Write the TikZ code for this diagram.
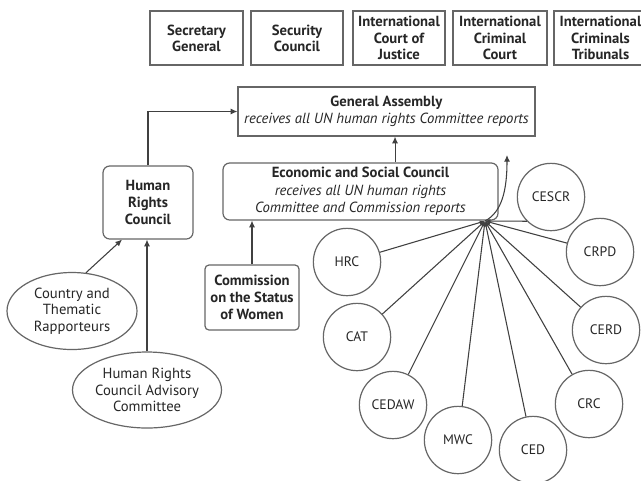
\documentclass[tikz,border=0pt]{standalone}
\usepackage{fontspec}
\setmainfont{PT Sans}
\usetikzlibrary{arrows.meta,shapes.geometric,calc}
\begin{document}
\begin{tikzpicture}[x=0.75pt,y=-0.75pt,
  every node/.style={font={\fontsize{11}{12.5}\selectfont}, align=center, inner sep=0pt, text=black!85},
  topbox/.style={draw=black!60, line width=1.1pt, minimum height=40.5pt, font={\fontsize{11}{12.2}\selectfont\bfseries}},
  sqbox/.style={draw=black!60, line width=0.9pt},
  rbox/.style={draw=black!60, line width=0.9pt, rounded corners=5pt},
  oval/.style={draw=black!60, line width=0.9pt, ellipse},
  comm/.style={draw=black!60, line width=0.9pt, circle, minimum size=50.5pt, font={\fontsize{10.3}{12}\selectfont}},
  conn/.style={draw=black!75, line width=0.8pt},
  arr/.style={conn, -{Latex[length=5pt,width=4.5pt]}},
  harr/.style={conn, -{Latex[length=4pt,width=3pt]}}
]
\useasboundingbox (0,0) rectangle (641,480);
\clip (0,0) rectangle (641,480);
\fill[white] (0,0) rectangle (641,480);

% top row
\node[topbox, minimum width=69.75pt] (sg)  at (196.5,38) {Secretary\\General};
\node[topbox, minimum width=69pt]    (sc)  at (297,38)   {Security\\Council};
\node[topbox, minimum width=69pt]    (icj) at (399,38)   {International\\Court of\\Justice};
\node[topbox, minimum width=70.5pt]  (icc) at (500,38)   {International\\Criminal\\Court};
\node[topbox, minimum width=69.75pt] (ict) at (600.5,38) {International\\Criminals\\Tribunals};

% main boxes
\node[sqbox, minimum width=222.75pt, minimum height=36.75pt] (ga) at (386.5,111.5)
  {\textbf{General Assembly}\\\textit{receives all UN human rights Committee reports}};
\node[rbox, minimum width=206.25pt, minimum height=42.75pt, font={\fontsize{11}{13}\selectfont}] (eco) at (360.5,191.5)
  {\textbf{Economic and Social Council}\\\textit{receives all UN human rights}\\\textit{Committee and Commission reports}};
\node[rbox, minimum width=67.5pt, minimum height=54.75pt, font={\fontsize{11}{12.5}\selectfont\bfseries}] (hrcou) at (148,202.5)
  {Human\\Rights\\Council};
\node[rbox, rounded corners=3pt, minimum width=70.5pt, minimum height=48.75pt, font={\fontsize{11}{12.5}\selectfont\bfseries}] (csw) at (252,297.5)
  {Commission\\on the Status\\of Women};

% ellipses
\node[oval, minimum width=97.5pt, minimum height=57.75pt] (ctr) at (72,311)
  {Country and\\Thematic\\Rapporteurs};
\node[oval, minimum width=111.75pt, minimum height=57pt] (hrcac) at (147,390)
  {Human Rights\\Council Advisory\\Committee};

% committees
\node[comm] (cescr) at (551,197) {CESCR};
\node[comm] (hrc)   at (347,262) {HRC};
\node[comm] (crpd)  at (600,252) {CRPD};
\node[comm] (cat)   at (357,337) {CAT};
\node[comm] (cerd)  at (606,330) {CERD};
\node[comm] (cedaw) at (393,405) {CEDAW};
\node[comm] (crc)   at (589,404) {CRC};
\node[comm] (mwc)   at (458,440) {MWC};
\node[comm] (ced)   at (533,450) {CED};

\coordinate (hub) at (485,221);
\coordinate (up) at (507,155);

% connectors
\draw[arr] (hrcou.north) |- (ga.west);
\coordinate (ecoup) at ([xshift=25.9pt]eco.north);
\draw[arr] (ecoup) -- (ecoup |- ga.south);
\draw[arr] (csw.north) -- (csw.north |- eco.south);
\coordinate (hrcin) at ([xshift=-19.5pt]hrcou.south);
\draw[arr] (ctr.70) -- (hrcin);
\draw[arr] (hrcac.north) -- (hrcac.north |- hrcou.south);

\foreach \c in {hrc,crpd,cat,cerd,cedaw,crc,mwc,ced}{
  \draw[harr] (\c) -- (hub);
}
\draw[harr] (cescr.225) -- (hub);
\draw[arr] (hub) .. controls (502,212) and (507,190) .. (up);
\end{tikzpicture}
\end{document}
